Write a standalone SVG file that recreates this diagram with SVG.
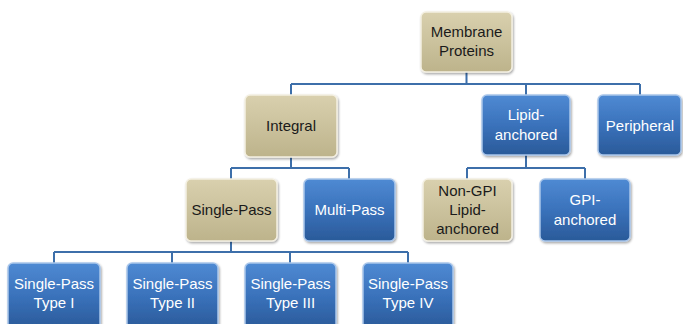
<svg xmlns="http://www.w3.org/2000/svg" width="683" height="324" viewBox="0 0 683 324">
<defs>
<linearGradient id="gTan" x1="0" y1="0" x2="0" y2="1">
<stop offset="0" stop-color="#d9d0ae"/>
<stop offset="0.5" stop-color="#cbc29d"/>
<stop offset="1" stop-color="#bdb38b"/>
</linearGradient>
<linearGradient id="gBlue" x1="0" y1="0" x2="0" y2="1">
<stop offset="0" stop-color="#4f8ad3"/>
<stop offset="0.5" stop-color="#3a72bb"/>
<stop offset="1" stop-color="#2a5a99"/>
</linearGradient>
<filter id="sh" x="-10%" y="-10%" width="125%" height="130%">
<feDropShadow dx="1" dy="1.5" stdDeviation="1.2" flood-color="#000" flood-opacity="0.35"/>
</filter>
</defs>
<style>
.tan{fill:url(#gTan);stroke:#f4f0e2;stroke-width:1.5;filter:url(#sh)}
.blue{fill:url(#gBlue);stroke:#a9c6ea;stroke-width:1.5;filter:url(#sh)}
text{font-family:"Liberation Sans",Arial,sans-serif;font-size:15px;text-anchor:middle}
.dk{fill:#1a1a1a}
.lt{fill:#ffffff}
.conn{fill:none;stroke:#3d6faa;stroke-width:2}
</style>
<rect width="683" height="324" fill="#ffffff"/>
<g id="connectors" class="conn">
<path d="M466.5 72V84M291 84H640M291 84V95M526 84V95M640 84V95"/>
<path d="M291 157V168M231 168H349M231 168V179M349 168V179"/>
<path d="M526 155V168M467 168H585M467 168V179M585 168V179"/>
<path d="M231 241V252M54 252H408M54 252V263M172 252V263M290 252V263M408 252V263"/>
</g>
<g id="membrane-proteins"><rect class="tan" x="421" y="12" width="91" height="60" rx="5"/><text class="dk" x="466.5" y="37">Membrane</text><text class="dk" x="466.5" y="56">Proteins</text></g>
<g id="integral"><rect class="tan" x="245" y="95" width="92" height="62" rx="5"/><text class="dk" x="291" y="131">Integral</text></g>
<g id="lipid-anchored"><rect class="blue" x="482" y="95" width="88" height="60" rx="5"/><text class="lt" x="526" y="120">Lipid-</text><text class="lt" x="526" y="140">anchored</text></g>
<g id="peripheral"><rect class="blue" x="598" y="95" width="83" height="60" rx="5"/><text class="lt" x="640" y="131">Peripheral</text></g>
<g id="single-pass"><rect class="tan" x="186" y="179" width="91" height="62" rx="5"/><text class="dk" x="231.5" y="215">Single-Pass</text></g>
<g id="multi-pass"><rect class="blue" x="304" y="179" width="91" height="62" rx="5"/><text class="lt" x="349.5" y="215">Multi-Pass</text></g>
<g id="non-gpi"><rect class="tan" x="423" y="179" width="89" height="62" rx="5"/><text class="dk" x="467.5" y="196">Non-GPI</text><text class="dk" x="467.5" y="215">Lipid-</text><text class="dk" x="467.5" y="234">anchored</text></g>
<g id="gpi-anchored"><rect class="blue" x="540" y="179" width="90" height="62" rx="5"/><text class="lt" x="585" y="205">GPI-</text><text class="lt" x="585" y="225">anchored</text></g>
<g id="type1"><rect class="blue" x="8" y="263" width="92" height="66" rx="5"/><text class="lt" x="54" y="289">Single-Pass</text><text class="lt" x="54" y="308">Type I</text></g>
<g id="type2"><rect class="blue" x="127" y="263" width="91" height="66" rx="5"/><text class="lt" x="172.5" y="289">Single-Pass</text><text class="lt" x="172.5" y="308">Type II</text></g>
<g id="type3"><rect class="blue" x="245" y="263" width="91" height="66" rx="5"/><text class="lt" x="290.5" y="289">Single-Pass</text><text class="lt" x="290.5" y="308">Type III</text></g>
<g id="type4"><rect class="blue" x="363" y="263" width="90" height="66" rx="5"/><text class="lt" x="408" y="289">Single-Pass</text><text class="lt" x="408" y="308">Type IV</text></g>
</svg>
